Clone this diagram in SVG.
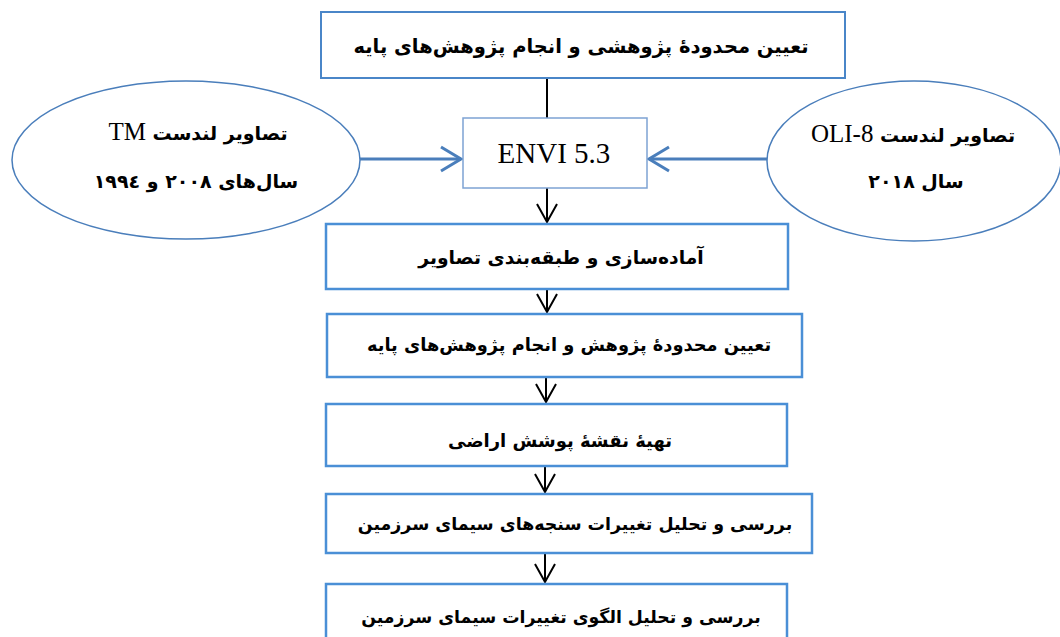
<svg xmlns="http://www.w3.org/2000/svg" width="1060" height="637" viewBox="0 0 1060 637">
<defs>
<style>
.box{fill:#fff;stroke:#4a8fd6;stroke-width:2.5}
.top{fill:#fff;stroke:#4a86c8;stroke-width:2}
.envi{fill:#fff;stroke:#7ea3d3;stroke-width:1.5}
.ell{fill:#fff;stroke:#4a7ebb;stroke-width:1.5}
.fa{font-family:"DejaVu Sans",sans-serif;font-weight:bold;fill:#000;text-anchor:middle;direction:rtl}
.lat{font-family:"Liberation Serif",serif;font-weight:normal}
.blk{stroke:#000;stroke-width:2;fill:none}
.blu{stroke:#4a7ebb;stroke-width:3;fill:none}
</style>
<marker id="ah" markerUnits="userSpaceOnUse" orient="auto" refX="0" refY="0" markerWidth="40" markerHeight="40" viewBox="-30 -20 40 40" overflow="visible">
<path d="M-18,-10 L0,0 L-18,10" fill="none" stroke="#000" stroke-width="2"/>
</marker>
<marker id="bh" markerUnits="userSpaceOnUse" orient="auto" refX="0" refY="0" markerWidth="40" markerHeight="40" viewBox="-30 -20 40 40" overflow="visible">
<path d="M-20,-12 L0,0 L-20,12" fill="none" stroke="#4a7ebb" stroke-width="3"/>
</marker>
</defs>
<rect width="1060" height="637" fill="#fff"/>
<g id="connectors">
<line class="blk" x1="547" y1="78" x2="547" y2="118"/>
<line class="blu" x1="344" y1="159" x2="461" y2="159" marker-end="url(#bh)"/>
<line class="blu" x1="767" y1="159" x2="649" y2="159" marker-end="url(#bh)"/>
<line class="blk" x1="547" y1="188" x2="547" y2="222" marker-end="url(#ah)"/>
<line class="blk" x1="547" y1="289" x2="547" y2="312" marker-end="url(#ah)"/>
<line class="blk" x1="546" y1="377" x2="546" y2="402" marker-end="url(#ah)"/>
<line class="blk" x1="545" y1="466" x2="545" y2="492" marker-end="url(#ah)"/>
<line class="blk" x1="545" y1="553" x2="545" y2="582" marker-end="url(#ah)"/>
</g>
<g id="n-top">
<rect class="top" x="321" y="12" width="524" height="66"/>
<text class="fa" x="581" y="53" font-size="19.5">تعیین محدودهٔ پژوهشی و انجام پژوهش‌های پایه</text>
</g>
<g id="n-tm">
<ellipse class="ell" cx="186" cy="160" rx="174" ry="79"/>
<text class="fa" x="198" y="140" font-size="19">تصاویر لندست <tspan class="lat" font-size="25">TM</tspan></text>
<text class="fa" x="196" y="188" font-size="19">سال‌های ٢٠٠٨ و ١٩٩٤</text>
</g>
<g id="n-oli">
<ellipse class="ell" cx="914" cy="161" rx="147" ry="80"/>
<text class="fa" x="913" y="142" font-size="19">تصاویر لندست <tspan class="lat" font-size="25">OLI-8</tspan></text>
<text class="fa" x="916" y="188" font-size="19">سال ٢٠١٨</text>
</g>
<g id="n-envi">
<rect class="envi" x="463" y="118" width="184" height="70"/>
<text x="554" y="163" font-family="Liberation Serif, serif" font-size="29" text-anchor="middle">ENVI 5.3</text>
</g>
<g id="n-prep">
<rect class="box" x="326" y="224" width="462" height="65"/>
<text class="fa" x="561" y="264" font-size="18.7">آماده‌سازی و طبقه‌بندی تصاویر</text>
</g>
<g id="n-area">
<rect class="box" x="327" y="314" width="475" height="63"/>
<text class="fa" x="569" y="351" font-size="17.8">تعیین محدودهٔ پژوهش و انجام پژوهش‌های پایه</text>
</g>
<g id="n-map">
<rect class="box" x="326" y="404" width="461" height="62"/>
<text class="fa" x="560" y="447" font-size="18">تهیهٔ نقشهٔ پوشش اراضی</text>
</g>
<g id="n-metrics">
<rect class="box" x="326" y="494" width="486" height="59"/>
<text class="fa" x="575" y="530" font-size="17.4">بررسی و تحلیل تغییرات سنجه‌های سیمای سرزمین</text>
</g>
<g id="n-pattern">
<rect class="box" x="326" y="584" width="461" height="70"/>
<text class="fa" x="561" y="623" font-size="17.3">بررسی و تحلیل الگوی تغییرات سیمای سرزمین</text>
</g>
</svg>
